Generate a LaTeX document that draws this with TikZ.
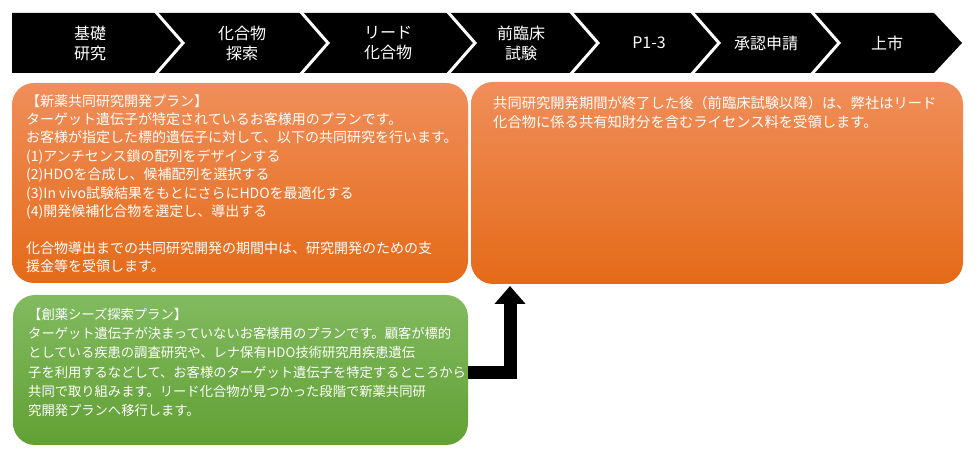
\documentclass[tikz,border=0pt]{standalone}
\usepackage{fontspec}
\newfontfamily\jp{Noto Sans CJK JP}
\usetikzlibrary{arrows.meta}
\definecolor{orTop}{RGB}{240,142,90}
\definecolor{orMid}{RGB}{243,128,46}
\definecolor{orBot}{RGB}{228,106,24}
\definecolor{grTop}{RGB}{130,186,96}
\definecolor{grBot}{RGB}{98,160,52}
\begin{document}
\begin{tikzpicture}[x=1pt,y=-1pt,
  chevtext/.style={text=white,align=center,inner sep=0pt,font=\jp\fontsize{16}{20}\selectfont},
  orbox/.style={rectangle,rounded corners=22pt,top color=orTop,middle color=orMid,bottom color=orBot,draw=none,inner sep=0pt},
  grbox/.style={rectangle,rounded corners=22pt,top color=grTop,bottom color=grBot,draw=none,inner sep=0pt},
  boxtext/.style={text=white,align=left,anchor=north west,inner sep=0pt,font=\jp\fontsize{14}{18.4}\selectfont},
  sep/.style={white,line width=3pt},
  bigarrow/.style={line width=13pt,-{Triangle[width=30pt,length=18pt]}}
]
\useasboundingbox (0,0) rectangle (978,462);
% chevron band
\fill[black] (12,13) -- (934,13) -- (962,43) -- (934,73) -- (12,73) -- cycle;
\foreach \x in {155,300,447,570,691,811}{
  \draw[sep] (\x,11) -- (\x+28,43) -- (\x,75);
}
\node[chevtext] (c1) at (90,43) {基礎\\研究};
\node[chevtext] (c2) at (242,43) {化合物\\探索};
\node[chevtext] (c3) at (388,43) {リード\\化合物};
\node[chevtext] (c4) at (521,43) {前臨床\\試験};
\node[chevtext] (c5) at (649,43) {P1-3};
\node[chevtext] (c6) at (766,43) {承認申請};
\node[chevtext] (c7) at (887,43) {上市};
% boxes
\node[orbox,minimum width=456pt,minimum height=200pt] (o1) at (240,183) {};
\node[orbox,minimum width=492pt,minimum height=202pt] (o2) at (717,183) {};
\node[grbox,minimum width=455pt,minimum height=150pt] (g) at (240.5,370) {};
\node[boxtext] (t1) at (26,94) {【新薬共同研究開発プラン】\\
ターゲット遺伝子が特定されているお客様用のプランです。\\
お客様が指定した標的遺伝子に対して、以下の共同研究を行います。\\
(1)アンチセンス鎖の配列をデザインする\\
(2)HDOを合成し、候補配列を選択する\\
(3)In vivo試験結果をもとにさらにHDOを最適化する\\
(4)開発候補化合物を選定し、導出する\\
\mbox{}\\
化合物導出までの共同研究開発の期間中は、研究開発のための支\\
援金等を受領します。};
\node[boxtext,font=\jp\fontsize{14.3}{19}\selectfont] (t2) at (493,96) {共同研究開発期間が終了した後（前臨床試験以降）は、弊社はリード\\
化合物に係る共有知財分を含むライセンス料を受領します。};
\node[boxtext,font=\jp\fontsize{13.3}{19.2}\selectfont] (t3) at (28,308) {【創薬シーズ探索プラン】\\
ターゲット遺伝子が決まっていないお客様用のプランです。顧客が標的\\
としている疾患の調査研究や、レナ保有HDO技術研究用疾患遺伝\\
子を利用するなどして、お客様のターゲット遺伝子を特定するところから\\
共同で取り組みます。リード化合物が見つかった段階で新薬共同研\\
究開発プランへ移行します。};
% arrow
\coordinate (as) at (468,373);
\coordinate (at) at (510,286);
\draw[bigarrow] (as) -| (at);
\end{tikzpicture}
\end{document}
